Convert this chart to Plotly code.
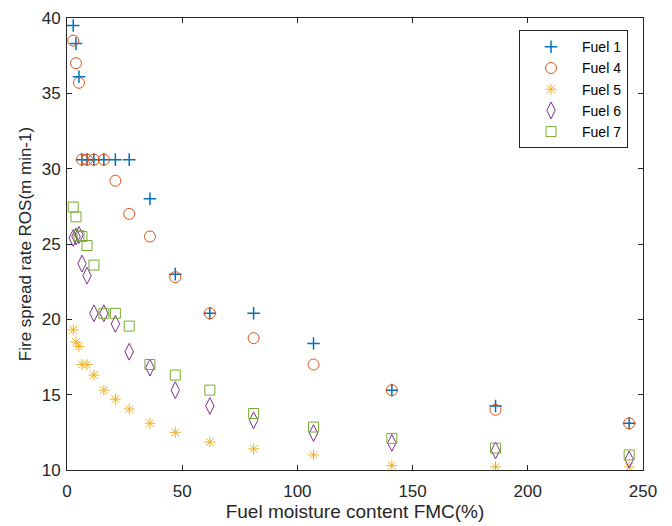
import plotly.graph_objects as go

fmc = [2.7, 3.9, 5.2, 6.5, 8.7, 11.7, 16, 21, 27, 36, 47, 62, 81, 107, 141, 186, 244]
fuel1 = [39.5, 38.3, 36.1, 30.6, 30.6, 30.6, 30.6, 30.6, 30.6, 28.0, 23.0, 20.4, 20.4, 18.4, 15.3, 14.25, 13.1]
fuel4 = [38.5, 37.0, 35.7, 30.6, 30.6, 30.6, 30.6, 29.2, 27.0, 25.5, 22.8, 20.4, 18.75, 17.0, 15.3, 14.0, 13.1]
fuel5 = [19.3, 18.5, 18.2, 17.0, 17.0, 16.3, 15.3, 14.7, 14.05, 13.1, 12.5, 11.85, 11.4, 11.0, 10.3, 10.2, 10.2]
fuel6 = [25.4, 25.5, 25.6, 23.7, 22.9, 20.4, 20.4, 19.7, 17.85, 16.8, 15.3, 14.25, 13.3, 12.45, 11.8, 11.3, 10.7]
fuel7 = [27.45, 26.8, 25.55, 25.5, 24.9, 23.6, 20.4, 20.4, 19.55, 17.0, 16.3, 15.3, 13.75, 12.85, 12.1, 11.45, 11.0]

names = ["Fuel 1", "Fuel 4", "Fuel 5", "Fuel 6", "Fuel 7"]
series = [fuel1, fuel4, fuel5, fuel6, fuel7]
colors = ["#0072BD", "#D95319", "#EDB120", "#7E2F8E", "#77AC30"]
symbols = ["cross-thin-open", "circle-open", "asterisk-open", "diamond-tall-open", "square-open"]
sizes = [9, 11, 9, 12, 10]
widths = [1.5, 1, 1, 1, 1]

fig = go.Figure()
for n, s, c, sym, sz, w in zip(names, series, colors, symbols, sizes, widths):
    fig.add_trace(go.Scatter(
        x=fmc, y=s, mode="markers", name=n,
        marker=dict(symbol=sym, size=sz, color=c, line=dict(color=c, width=w)),
    ))

axis_common = dict(
    showline=True, linecolor="#262626", linewidth=1, mirror="ticks",
    ticks="inside", ticklen=5, tickcolor="#262626", tickwidth=1,
    showgrid=False, zeroline=False,
    tickfont=dict(size=17, color="#262626"),
)
fig.update_xaxes(range=[0, 250], tickvals=[0, 50, 100, 150, 200, 250],
                 ticklabelstandoff=6,
                 title=dict(text="Fuel moisture content FMC(%)", font=dict(size=19, color="#262626"), standoff=2),
                 **axis_common)
fig.update_yaxes(range=[10, 40], tickvals=[10, 15, 20, 25, 30, 35, 40],
                 ticklabelstandoff=2,
                 title=dict(text="Fire spread rate ROS(m min-1)", font=dict(size=17, color="#262626"), standoff=5),
                 **axis_common)

fig.update_layout(
    width=672, height=526,
    margin=dict(l=59, r=37, t=10, b=64, autoexpand=False),
    plot_bgcolor="white", paper_bgcolor="white",
    font=dict(family="Liberation Sans, Arial, sans-serif", color="#262626"),
    legend=dict(x=0.974, y=0.973, xanchor="right", yanchor="top",
                bordercolor="#262626", borderwidth=1, bgcolor="white",
                itemwidth=52,
                font=dict(size=14, color="black"), tracegroupgap=0),
    showlegend=True,
)
fig.write_html("out.html")
